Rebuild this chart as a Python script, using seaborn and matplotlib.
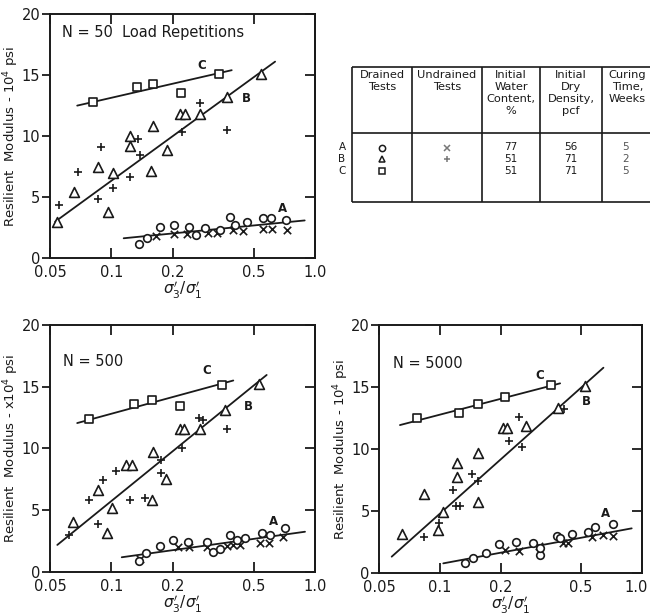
import numpy as np
import pandas as pd
import matplotlib
matplotlib.use("Agg")
import matplotlib.pyplot as plt
import matplotlib.transforms as mtransforms
from matplotlib.ticker import NullLocator, FixedLocator, FixedFormatter
import seaborn as sns

# ---------------- data ----------------
x_ticks = [0.05, 0.1, 0.2, 0.5, 1.0]
x_tick_labels = ["0.05", "0.1", "0.2", "0.5", "1.0"]
y_ticks = [0, 5, 10, 15, 20]
y_tick_labels = ["0", "5", "10", "15", "20"]

panel_titles = ["N = 50  Load Repetitions", "N = 500", "N = 5000"]
y_labels = ["Resilient  Modulus - 10$^4$ psi",
            "Resilient  Modulus - x10$^4$ psi",
            "Resilient  Modulus - 10$^4$ psi"]
x_label = r"$\sigma_3'/\sigma_1'$"

# ---- N = 50 ----
n50_A_drained_x = [0.136, 0.150, 0.173, 0.202, 0.240, 0.260, 0.290, 0.342, 0.383, 0.405, 0.462, 0.557, 0.605, 0.721]
n50_A_drained_y = [1.15, 1.70, 2.55, 2.75, 2.55, 1.90, 2.45, 2.30, 3.40, 2.75, 3.00, 3.30, 3.30, 3.15]
n50_A_undrained_x = [0.166, 0.203, 0.236, 0.299, 0.329, 0.397, 0.442, 0.557, 0.612, 0.731]
n50_A_undrained_y = [1.80, 2.00, 1.95, 2.05, 2.10, 2.35, 2.20, 2.40, 2.40, 2.35]
n50_A_line_x = [0.115, 0.89]
n50_A_line_y = [1.64, 3.10]
n50_B_drained_x = [0.054, 0.0656, 0.0863, 0.0966, 0.1016, 0.1235, 0.124, 0.156, 0.160, 0.188, 0.218, 0.229, 0.272, 0.368, 0.541]
n50_B_drained_y = [3.0, 5.46, 7.45, 3.81, 7.0, 10.0, 9.19, 7.17, 10.8, 8.9, 11.8, 11.8, 11.8, 13.2, 15.1]
n50_B_undrained_x = [0.0555, 0.069, 0.0887, 0.0863, 0.1016, 0.124, 0.1357, 0.138, 0.2215, 0.272, 0.368]
n50_B_undrained_y = [4.37, 7.1, 9.13, 4.83, 5.73, 6.68, 9.74, 8.45, 10.36, 12.7, 10.5]
n50_B_line_x = [0.053, 0.637]
n50_B_line_y = [3.0, 16.1]
n50_C_drained_x = [0.081, 0.133, 0.160, 0.220, 0.339]
n50_C_drained_y = [12.8, 14.0, 14.3, 13.5, 15.1]
n50_C_line_x = [0.068, 0.39]
n50_C_line_y = [12.5, 15.4]

# ---- N = 500 ----
n500_A_drained_x = [0.136, 0.148, 0.173, 0.201, 0.239, 0.294, 0.317, 0.342, 0.383, 0.413, 0.454, 0.547, 0.601, 0.713]
n500_A_drained_y = [0.9, 1.5, 2.08, 2.57, 2.43, 2.43, 1.62, 1.82, 2.98, 2.57, 2.7, 3.1, 2.98, 3.52]
n500_A_undrained_x = [0.139, 0.213, 0.241, 0.294, 0.368, 0.397, 0.428, 0.537, 0.597, 0.70]
n500_A_undrained_y = [1.0, 2.03, 2.03, 2.03, 2.08, 2.16, 2.16, 2.3, 2.3, 2.84]
n500_A_line_x = [0.1125, 0.893]
n500_A_line_y = [1.17, 3.24]
n500_B_drained_x = [0.0646, 0.0863, 0.0955, 0.1005, 0.118, 0.127, 0.158, 0.160, 0.1856, 0.218, 0.228, 0.272, 0.361, 0.533]
n500_B_drained_y = [4.06, 6.6, 3.1, 5.14, 8.65, 8.65, 5.8, 9.73, 7.5, 11.55, 11.55, 11.55, 13.1, 15.2]
n500_B_undrained_x = [0.0622, 0.078, 0.0863, 0.0906, 0.1055, 0.1235, 0.146, 0.175, 0.176, 0.2215, 0.268, 0.281, 0.371]
n500_B_undrained_y = [2.98, 5.8, 3.9, 7.4, 8.2, 5.8, 5.95, 9.06, 7.98, 10.0, 12.5, 12.3, 11.6]
n500_B_line_x = [0.0543, 0.579]
n500_B_line_y = [2.17, 15.95]
n500_C_drained_x = [0.078, 0.129, 0.158, 0.218, 0.348]
n500_C_drained_y = [12.4, 13.6, 13.9, 13.4, 15.1]
n500_C_line_x = [0.068, 0.397]
n500_C_line_y = [12.05, 15.5]

# ---- N = 5000 ----
n5000_A_drained_x = [0.133, 0.146, 0.170, 0.197, 0.238, 0.290, 0.313, 0.313, 0.379, 0.392, 0.450, 0.544, 0.587, 0.724]
n5000_A_drained_y = [0.8, 1.2, 1.6, 2.4, 2.55, 2.42, 1.45, 2.0, 3.0, 2.85, 3.16, 3.35, 3.75, 3.97]
n5000_A_undrained_x = [0.210, 0.245, 0.310, 0.406, 0.433, 0.566, 0.646, 0.724]
n5000_A_undrained_y = [1.88, 1.82, 2.2, 2.42, 2.42, 2.95, 3.08, 3.0]
n5000_A_line_x = [0.1038, 0.892]
n5000_A_line_y = [0.8, 3.62]
n5000_B_drained_x = [0.0645, 0.0833, 0.098, 0.1038, 0.121, 0.121, 0.154, 0.154, 0.205, 0.215, 0.266, 0.386, 0.524]
n5000_B_drained_y = [3.2, 6.39, 3.49, 4.96, 7.78, 8.86, 9.71, 5.77, 11.7, 11.7, 11.86, 13.3, 15.1]
n5000_B_undrained_x = [0.0836, 0.0993, 0.1156, 0.120, 0.126, 0.1436, 0.1538, 0.221, 0.246, 0.254, 0.41]
n5000_B_undrained_y = [2.95, 4.03, 6.7, 5.42, 5.42, 8.0, 7.46, 10.68, 12.6, 10.2, 13.2]
n5000_B_line_x = [0.0576, 0.646]
n5000_B_line_y = [1.34, 16.56]
n5000_C_drained_x = [0.0767, 0.1247, 0.155, 0.210, 0.354]
n5000_C_drained_y = [12.48, 12.93, 13.63, 14.22, 15.16]
n5000_C_line_x = [0.0633, 0.394]
n5000_C_line_y = [11.94, 15.3]

# curve labels (letter, x, y) per panel
curve_letters = ["A", "B", "C"]
n50_letter_x = [0.69, 0.462, 0.278]
n50_letter_y = [4.1, 13.1, 15.8]
n500_letter_x = [0.623, 0.47, 0.294]
n500_letter_y = [4.1, 13.4, 16.3]
n5000_letter_x = [0.658, 0.534, 0.311]
n5000_letter_y = [4.8, 13.8, 15.9]

# table
table_headers = ["Drained\nTests", "Undrained\nTests", "Initial\nWater\nContent,\n%",
                 "Initial\nDry\nDensity,\npcf", "Curing\nTime,\nWeeks"]
table_rows = ["A", "B", "C"]
table_water = ["77", "51", "51"]
table_density = ["56", "71", "71"]
table_curing = ["5", "2", "5"]

# ---------------- figure ----------------
sns.set_theme(style="white")
plt.rcParams["font.family"] = ["DejaVu Sans"]
plt.rcParams["mathtext.fontset"] = "dejavusans"
INK = "#1a1a1a"

W, H = 650, 615
fig = plt.figure(figsize=(W / 100, H / 100), dpi=100)
fig.patch.set_facecolor("white")


def px_axes(left, top, right, bottom):
    return fig.add_axes([left / W, 1 - bottom / H, (right - left) / W, (bottom - top) / H])


panels = [
    dict(box=(50, 14, 315, 258.3), title=panel_titles[0], ylabel=y_labels[0], tpos=(0.045, 0.925),
         A=(n50_A_drained_x, n50_A_drained_y, n50_A_undrained_x, n50_A_undrained_y, n50_A_line_x, n50_A_line_y),
         B=(n50_B_drained_x, n50_B_drained_y, n50_B_undrained_x, n50_B_undrained_y, n50_B_line_x, n50_B_line_y),
         C=(n50_C_drained_x, n50_C_drained_y, n50_C_line_x, n50_C_line_y),
         L=(n50_letter_x, n50_letter_y)),
    dict(box=(50, 325, 315, 571.7), title=panel_titles[1], ylabel=y_labels[1], tpos=(0.05, 0.852),
         A=(n500_A_drained_x, n500_A_drained_y, n500_A_undrained_x, n500_A_undrained_y, n500_A_line_x, n500_A_line_y),
         B=(n500_B_drained_x, n500_B_drained_y, n500_B_undrained_x, n500_B_undrained_y, n500_B_line_x, n500_B_line_y),
         C=(n500_C_drained_x, n500_C_drained_y, n500_C_line_x, n500_C_line_y),
         L=(n500_letter_x, n500_letter_y)),
    dict(box=(379.3, 325, 641.7, 573.3), title=panel_titles[2], ylabel=y_labels[2], tpos=(0.053, 0.846),
         A=(n5000_A_drained_x, n5000_A_drained_y, n5000_A_undrained_x, n5000_A_undrained_y, n5000_A_line_x, n5000_A_line_y),
         B=(n5000_B_drained_x, n5000_B_drained_y, n5000_B_undrained_x, n5000_B_undrained_y, n5000_B_line_x, n5000_B_line_y),
         C=(n5000_C_drained_x, n5000_C_drained_y, n5000_C_line_x, n5000_C_line_y),
         L=(n5000_letter_x, n5000_letter_y)),
]


def hollow(ax, x, y, marker, s):
    sns.scatterplot(x=x, y=y, marker=marker, s=s, facecolor="white", edgecolor=INK,
                    linewidth=1.2, ax=ax, zorder=3, legend=False)


def stroke(ax, x, y, marker, s):
    sns.scatterplot(x=x, y=y, marker=marker, s=s, color=INK, linewidth=1.2,
                    ax=ax, zorder=3, legend=False)


def line(ax, x, y):
    sns.lineplot(x=x, y=y, color=INK, linewidth=1.3, estimator=None, sort=False,
                 ax=ax, zorder=2, legend=False)


for pi, p in enumerate(panels):
    l, t, r, b = p["box"]
    ax = px_axes(l, t, r, b)
    ax.set_xscale("log")
    ax.set_facecolor("white")

    ax_, ay_, ux, uy, lx, ly = p["A"]
    line(ax, lx, ly)
    stroke(ax, ux, uy, "x", 28)
    hollow(ax, ax_, ay_, "o", 30)

    bx, by, bux, buy, blx, bly = p["B"]
    line(ax, blx, bly)
    stroke(ax, bux, buy, "+", 40)
    hollow(ax, bx, by, "^", 50)

    cx, cy, clx, cly = p["C"]
    line(ax, clx, cly)
    hollow(ax, cx, cy, "s", 34)

    for letter, tx, ty in zip(curve_letters, p["L"][0], p["L"][1]):
        ax.text(tx, ty, letter, fontsize=8.5, color=INK, ha="center", va="center", fontweight="bold")

    ax.text(p["tpos"][0], p["tpos"][1], p["title"], transform=ax.transAxes,
            fontsize=10.5, color=INK, ha="left", va="center")

    ax.set_xlim(0.05, 1.0)
    ax.set_ylim(0, 20)
    ax.xaxis.set_major_locator(FixedLocator(x_ticks))
    ax.xaxis.set_major_formatter(FixedFormatter(x_tick_labels))
    ax.xaxis.set_minor_locator(NullLocator())
    ax.yaxis.set_major_locator(FixedLocator(y_ticks))
    ax.yaxis.set_major_formatter(FixedFormatter(y_tick_labels))
    ax.tick_params(axis="x", which="major", direction="in", top=True, bottom=True,
                   length=7, width=1.3, color=INK, labelsize=10.5, labelcolor=INK, pad=5)
    ax.tick_params(axis="y", which="major", direction="out", left=True, right=False,
                   length=5.5, width=1.3, color=INK, labelsize=10.5, labelcolor=INK, pad=1.5)
    sec = ax.secondary_yaxis("right")
    sec.yaxis.set_major_locator(FixedLocator(y_ticks))
    sec.tick_params(direction="in", length=7, width=1.3, color=INK, labelright=False)
    sec.spines["right"].set_linewidth(1.4)
    sec.spines["right"].set_color(INK)
    for s in ax.spines.values():
        s.set_visible(True)
        s.set_linewidth(1.4)
        s.set_color(INK)
    ax.set_xlabel(x_label, fontsize=11, color=INK, labelpad=0)
    ax.set_ylabel(p["ylabel"], fontsize=9.5, color=INK)
    # anchor = right edge of the rotated label, left of the tick labels
    ax.yaxis.set_label_coords(-28.5 / (r - l), 0.5)
    ax.grid(False)

    if pi == 2:
        fig.canvas.draw()
        last = ax.get_xticklabels()[-1]
        last.set_transform(last.get_transform() + mtransforms.ScaledTranslation(-6 / 100, 0, fig.dpi_scale_trans))

# ---------------- table ----------------
tax = fig.add_axes([0, 0, 1, 1], facecolor="none")
tax.set_xlim(0, W)
tax.set_ylim(H, 0)
tax.axis("off")

col_edges = [352, 412, 482, 540, 602, 653]
top, mid, bot = 67, 133, 202
tax.hlines([top, mid, bot], col_edges[0], col_edges[-1], color=INK, linewidth=1.2)
tax.vlines(col_edges, top, bot, color=INK, linewidth=1.2)
centers = [(a + b) / 2 for a, b in zip(col_edges[:-1], col_edges[1:])]
for cx_, head in zip(centers, table_headers):
    for k, ln in enumerate(head.split("\n")):
        tax.text(cx_, 75 + 12 * k, ln, fontsize=8.2, color=INK, ha="center", va="center")

row_y = [147.5, 159, 170.5]
drained_markers = ["o", "^", "s"]
undrained_markers = ["x", "+", None]
for i, rr in enumerate(table_rows):
    tax.text(342, row_y[i], rr, fontsize=7.5, color=INK, ha="center", va="center")
    tax.plot(centers[0], row_y[i], marker=drained_markers[i], markersize=4.5,
             markerfacecolor="white", markeredgecolor=INK, markeredgewidth=1.1, linestyle="none")
    if undrained_markers[i]:
        tax.plot(centers[1], row_y[i], marker=undrained_markers[i], markersize=4.5,
                 color="#777777", markeredgewidth=1.1, linestyle="none")
    tax.text(centers[2], row_y[i], table_water[i], fontsize=7.5, color=INK, ha="center", va="center")
    tax.text(centers[3], row_y[i], table_density[i], fontsize=7.5, color=INK, ha="center", va="center")
    tax.text(centers[4] - 2, row_y[i], table_curing[i], fontsize=7.5, color="#555555", ha="center", va="center")

fig.savefig("out.png", dpi=100, facecolor="white")
